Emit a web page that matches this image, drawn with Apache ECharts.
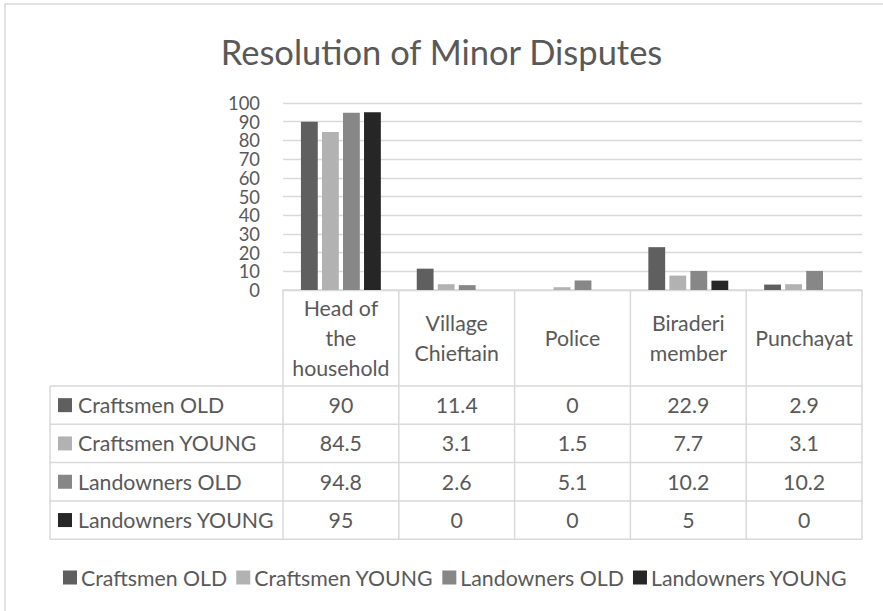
<!DOCTYPE html>
<html>
<head>
<meta charset="utf-8">
<script src="https://cdn.jsdelivr.net/npm/echarts@6/dist/echarts.min.js"></script>
<style>
html,body{margin:0;padding:0;background:#fff;}
#chart{width:883px;height:611px;}
</style>
</head>
<body>
<div id="chart"></div>
<script>
const categories = ['Head of\nthe\nhousehold', 'Village\nChieftain', 'Police', 'Biraderi\nmember', 'Punchayat'];
const seriesNames = ['Craftsmen OLD', 'Craftsmen YOUNG', 'Landowners OLD', 'Landowners YOUNG'];
const craftsmenOld = [90, 11.4, 0, 22.9, 2.9];
const craftsmenYoung = [84.5, 3.1, 1.5, 7.7, 3.1];
const landownersOld = [94.8, 2.6, 5.1, 10.2, 10.2];
const landownersYoung = [95, 0, 0, 5, 0];
const yMin = 0, yMax = 100, yInterval = 10;
const seriesColors = ['#5f5f5f', '#b2b2b2', '#878787', '#262626'];

const seriesData = [craftsmenOld, craftsmenYoung, landownersOld, landownersYoung];
const FONT = 'Lato';
const TXT = '#595959';
const LINE = '#d9d9d9';
const FS = 21.3;

const chart = echarts.init(document.getElementById('chart'), null, {renderer: 'svg'});
chart.setOption({
  animation: false,
  backgroundColor: '#fff',
  textStyle: {fontFamily: FONT},
  title: {
    text: 'Resolution of Minor Disputes',
    left: 'center', top: 29,
    textStyle: {fontFamily: FONT, fontSize: 34.5, fontWeight: 'normal', color: TXT}
  },
  legend: {
    data: seriesNames,
    left: 58, top: 562,
    icon: 'rect', itemWidth: 14, itemHeight: 14, itemGap: 9,
    textStyle: {fontFamily: FONT, fontSize: FS, color: TXT, padding: [0, 0, 0, -1]}
  },
  grid: {left: 283, right: 21, top: 103, bottom: 321, outerBoundsMode: 'none'},
  xAxis: {
    type: 'category',
    data: categories,
    axisLine: {lineStyle: {color: LINE, width: 1.5}},
    axisTick: {show: false},
    axisLabel: {
      interval: 0, margin: 48, verticalAlign: 'middle',
      fontFamily: FONT, fontSize: FS, lineHeight: 30, color: TXT, align: 'center'
    }
  },
  yAxis: {
    type: 'value', min: yMin, max: yMax, interval: yInterval,
    axisLine: {show: false}, axisTick: {show: false},
    axisLabel: {margin: 23, fontFamily: FONT, fontSize: 18.4, lineHeight: 17, color: TXT,
      showMinLabel: true, showMaxLabel: true, hideOverlap: false},
    splitLine: {lineStyle: {color: LINE, width: 1.3}}
  },
  series: seriesNames.map((name, i) => ({
    name: name, type: 'bar', data: seriesData[i],
    itemStyle: {color: seriesColors[i]},
    barGap: '25%', barCategoryGap: '31%'
  }))
});

// Data table below the plot, aligned with the category axis
const c0 = chart.convertToPixel({xAxisIndex: 0}, 0);
const c1 = chart.convertToPixel({xAxisIndex: 0}, 1);
const band = c1 - c0;
const yZero = chart.convertToPixel({yAxisIndex: 0}, 0);
const headerH = 96, rowH = 38.3, tableLeft = 50;
const firstCol = c0 - band / 2;
const lastCol = c0 + band * (categories.length - 0.5);
const headerBottom = yZero + headerH;
const tableBottom = headerBottom + rowH * seriesNames.length;
const els = [];
const line = (x1, y1, x2, y2) => els.push({type: 'line', shape: {x1, y1, x2, y2}, style: {stroke: LINE, lineWidth: 1.5}, silent: true});
for (let j = 0; j <= categories.length; j++) {
  const x = firstCol + band * j;
  line(x, yZero, x, tableBottom);
}
line(tableLeft, headerBottom, tableLeft, tableBottom);
for (let r = 0; r <= seriesNames.length; r++) {
  const y = headerBottom + rowH * r;
  line(tableLeft, y, lastCol, y);
}
seriesNames.forEach((name, r) => {
  const cy = headerBottom + rowH * (r + 0.5);
  els.push({type: 'rect', shape: {x: 58, y: cy - 7, width: 14, height: 14}, style: {fill: seriesColors[r]}, silent: true});
  els.push({type: 'text', x: 78, y: cy, style: {text: name, fontFamily: FONT, fontSize: FS, fill: TXT, verticalAlign: 'middle', align: 'left'}, silent: true});
  seriesData[r].forEach((v, j) => {
    els.push({type: 'text', x: c0 + band * j, y: cy, style: {text: String(v), fontFamily: FONT, fontSize: FS, fill: TXT, verticalAlign: 'middle', align: 'center'}, silent: true});
  });
});
els.push({type: 'rect', shape: {x: 5, y: 4, width: 900, height: 640}, style: {fill: 'none', stroke: LINE, lineWidth: 1.5}, silent: true});
chart.setOption({graphic: {elements: els}});
</script>
</body>
</html>
